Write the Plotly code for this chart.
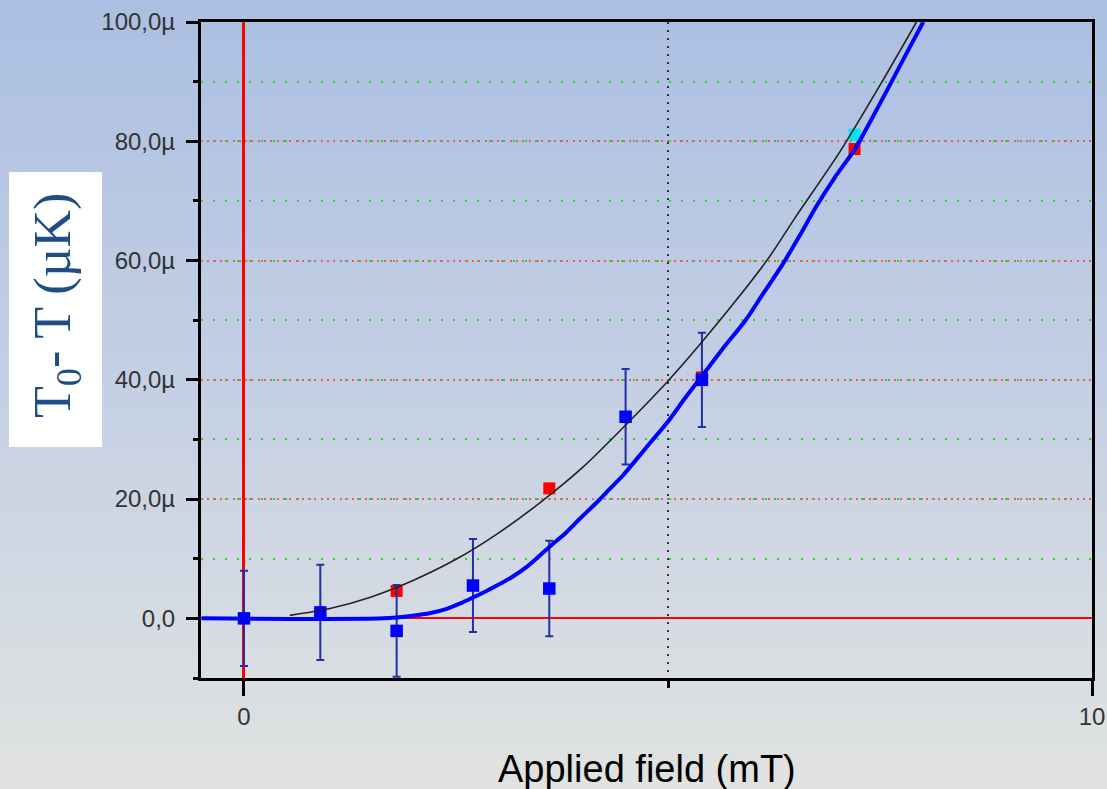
import plotly.graph_objects as go

# ---------------- data (field in mT, temperature change in µK) ----------------
field_blue = [0.0, 0.9, 1.8, 2.7, 3.6, 4.5, 5.4]
dT_blue = [0.0, 1.0, -2.1, 5.5, 5.0, 33.8, 40.0]
err_blue = [8.0, 8.0, 7.7, 7.8, 8.0, 8.0, 7.9]

field_red = [1.8, 3.6, 5.4, 7.2]
dT_red = [4.6, 21.8, 40.4, 78.7]

field_cyan = [7.2]
dT_cyan = [81.1]

fit_black_x = [0.54, 1.0, 1.5, 2.0, 2.5, 3.0, 3.5, 4.0, 4.5, 5.0, 5.38, 6.16, 6.5, 7.03, 7.5, 7.93]
fit_black_y = [0.5, 1.6, 3.6, 6.4, 9.9, 14.3, 19.5, 25.4, 32.4, 39.8, 46.0, 59.9, 67.2, 78.3, 89.4, 100.0]

fit_blue_x = [-0.5, 1.64, 1.99, 2.2, 2.39, 2.55, 2.70, 2.86, 3.02, 3.18, 3.33, 3.47, 3.61, 3.8, 3.96,
              4.15, 4.3, 4.47, 4.63, 4.8, 5.0, 5.2, 5.42, 5.65, 5.91, 6.12, 6.34, 6.55, 6.75, 6.97,
              7.2, 7.4, 7.6, 7.8, 8.01]
fit_blue_y = [0.0, 0.0, 0.45, 0.9, 1.6, 2.5, 3.5, 4.6, 5.8, 7.1, 8.6, 10.3, 12.1, 14.4, 16.7,
              19.3, 21.5, 24.0, 26.7, 29.6, 33.0, 36.9, 41.0, 45.3, 49.9, 54.4, 59.1, 64.1, 69.1, 74.0,
              78.6, 83.7, 89.0, 94.4, 100.0]

y_tickvals = [0, 20, 40, 60, 80, 100]
y_ticktext = ["0,0", "20,0µ", "40,0µ", "60,0µ", "80,0µ", "100,0µ"]
x_tickvals = [0, 10]
x_ticktext = ["0", "10"]

# ---------------- geometry ----------------
W, H = 1107, 789
L, R, T, B = 201, 15, 22, 111
PW, PH = W - L - R, H - T - B


def px_x(p):
    return (p - L) / PW


def px_y(p):
    return (H - B - p) / PH


fig = go.Figure()

# cyan, red points (under the blue ones)
fig.add_trace(go.Scatter(x=field_cyan, y=dT_cyan, mode="markers",
                         marker=dict(symbol="square", size=12, color="#00E8F0"),
                         showlegend=False))
fig.add_trace(go.Scatter(x=field_red, y=dT_red, mode="markers",
                         marker=dict(symbol="square", size=12, color="#FF0000"),
                         showlegend=False))
# blue points with error bars
fig.add_trace(go.Scatter(x=field_blue, y=dT_blue, mode="markers",
                         marker=dict(symbol="square", size=12.5, color="#0000FF"),
                         error_y=dict(type="data", array=err_blue, visible=True,
                                      color="#2030A8", thickness=2, width=4),
                         showlegend=False))
# fit curves
fig.add_trace(go.Scatter(x=fit_black_x, y=fit_black_y, mode="lines",
                         line=dict(color="#222222", width=1.6, shape="spline", smoothing=0.8),
                         showlegend=False))
fig.add_trace(go.Scatter(x=fit_blue_x, y=fit_blue_y, mode="lines",
                         line=dict(color="#0000FF", width=4, shape="spline", smoothing=0.8),
                         showlegend=False))

# ---------------- background gradient ----------------
stops = [(0.0, (171, 191, 226)), (0.5, (197, 208, 228)), (1.0, (225, 227, 225))]


def grad(t):
    for (t0, c0), (t1, c1) in zip(stops[:-1], stops[1:]):
        if t <= t1:
            f = (t - t0) / (t1 - t0)
            return tuple(int(round(a + (b - a) * f)) for a, b in zip(c0, c1))
    return stops[-1][1]


shapes = []
N = 80
for i in range(N):
    y0p = H * i / N
    y1p = H * (i + 1) / N + 1
    c = grad((i + 0.5) / N)
    shapes.append(dict(type="rect", xref="paper", yref="paper", layer="below",
                       x0=px_x(0), x1=px_x(W), y0=px_y(y1p), y1=px_y(y0p),
                       line=dict(width=0), fillcolor="rgb(%d,%d,%d)" % c))

# white box behind the y-axis label
shapes.append(dict(type="rect", xref="paper", yref="paper", layer="above",
                   x0=px_x(9), x1=px_x(102), y0=px_y(447), y1=px_y(172),
                   line=dict(width=0), fillcolor="white"))

annotations = [
    dict(text="T<sub>0</sub>- T (µK)", textangle=-90, xref="paper", yref="paper",
         x=px_x(56), y=px_y(306), xanchor="center", yanchor="middle", showarrow=False,
         font=dict(family="Liberation Serif", size=52, color="#1F4E86")),
    dict(text="Applied field (mT)", xref="paper", yref="paper",
         x=px_x(647), y=px_y(769), xanchor="center", yanchor="middle", showarrow=False,
         font=dict(family="Liberation Sans", size=38, color="#000000")),
]

fig.update_layout(
    width=W, height=H,
    margin=dict(l=L, r=R, t=T, b=B, pad=0, autoexpand=False),
    paper_bgcolor="rgb(200,210,228)",
    plot_bgcolor="rgba(0,0,0,0)",
    shapes=shapes,
    annotations=annotations,
    showlegend=False,
    xaxis=dict(
        range=[-0.507, 10], tickmode="array", tickvals=x_tickvals, ticktext=x_ticktext,
        automargin=False,
        ticks="outside", ticklen=15, tickwidth=3, tickcolor="black",
        tickfont=dict(family="Liberation Sans", size=24, color="#333333"),
        showline=True, linewidth=3, linecolor="black", mirror=True,
        showgrid=False,
        zeroline=True, zerolinecolor="#FF0000", zerolinewidth=3,
        minor=dict(dtick=5, tick0=0, ticks="outside", ticklen=7, tickwidth=3,
                   tickcolor="black", showgrid=True, gridcolor="#333333",
                   griddash="2px,6px", gridwidth=1.5),
    ),
    yaxis=dict(
        range=[-10, 100], tickmode="array", tickvals=y_tickvals, ticktext=y_ticktext,
        automargin=False,
        ticks="outside", ticklen=12, tickwidth=3, tickcolor="black",
        tickfont=dict(family="Liberation Sans", size=24, color="#333333"),
        ticklabelstandoff=6,
        showline=True, linewidth=3, linecolor="black", mirror=True,
        showgrid=True, gridcolor="#F05A5A", griddash="2px,4.3px", gridwidth=1.5,
        zeroline=True, zerolinecolor="#FF0000", zerolinewidth=2,
        minor=dict(dtick=10, tick0=0, ticks="outside", ticklen=5, tickwidth=3,
                   tickcolor="black", showgrid=True, gridcolor="#22DD22",
                   griddash="2px,10px", gridwidth=1.5),
    ),
)

fig.write_html("out.html", config={"displayModeBar": False},
               post_script="document.body.style.margin='0';document.body.style.overflow='hidden';")
